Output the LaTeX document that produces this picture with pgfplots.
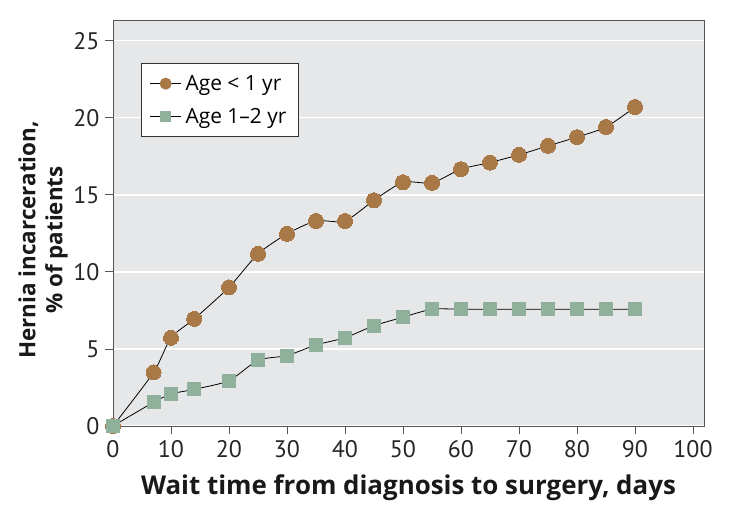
\documentclass[border=0pt]{standalone}
\usepackage{pgfplots}
\pgfplotsset{compat=1.18}
\usepackage{fontspec}
\setmainfont{Open Sans}
\newfontfamily\tickfont{PT Sans}
\definecolor{bgc}{HTML}{E6E7E8}
\definecolor{brownc}{HTML}{A87846}
\definecolor{greenc}{HTML}{8FB09A}
\definecolor{axc}{HTML}{555555}
\begin{document}
\begin{tikzpicture}
\begin{axis}[
 scale only axis, width=591bp, height=406bp,
 xmin=0, xmax=101.9, ymin=0, ymax=26.35,
 xtick={0,10,...,100}, ytick={0,5,...,25},
 axis background/.style={fill=bgc},
 ymajorgrids, grid style={white, line width=1.3pt},
 axis line style={axc, line width=0.9pt},
 tick style={axc, line width=0.9pt},
 tick align=outside, major tick length=8bp,
 xtick pos=bottom, ytick pos=left,
 ticklabel style={font=\tickfont\fontsize{24}{24}\selectfont, text=black!85},
 xticklabel style={yshift=-3bp},
 yticklabel style={xshift=-2bp},
 /pgf/number format/assume math mode=true,
 xlabel={Wait time from diagnosis to surgery, days},
 ylabel={Hernia incarceration,\\\% of patients},
 xlabel style={at={(axis description cs:0.5,0)}, anchor=center, yshift=-62bp,
   font=\fontsize{26}{28}\selectfont\bfseries},
 ylabel style={at={(axis description cs:-0.1184,0.458)}, anchor=center, align=center,
   font=\fontsize{22.5}{27}\selectfont\bfseries},
 label style={text=black!90},
 legend style={at={(0.048,0.894)}, anchor=north west, draw=black!80, line width=0.8pt, fill=white,
   font=\fontsize{21}{24}\selectfont, row sep=12bp, inner xsep=8bp, inner ysep=10bp,
   nodes={inner xsep=4bp}},
 legend cell align=left,
 clip=false,
]
\addplot[black, line width=0.8pt, smooth, tension=0.4, mark=*, mark size=7.5bp,
  mark options={fill=brownc, draw=brownc, line width=0pt},
  legend image code/.code={\draw[black,line width=0.8pt] (0bp,0bp) -- (31bp,0bp);
     \fill[brownc] (15.5bp,0bp) circle (5.6bp);}] coordinates {
(0,0) (7,3.48) (10,5.73) (14,6.95) (20,9.0) (25,11.17) (30,12.47) (35,13.31) (40,13.3)
(45,14.65) (50,15.82) (55,15.78) (60,16.67) (65,17.1) (70,17.6) (75,18.18) (80,18.75)
(85,19.4) (90,20.7)};
\addlegendentry{Age < 1 yr}
\addplot[black, line width=0.8pt, smooth, tension=0.4, mark=square*, mark size=6.5bp,
  mark options={fill=greenc, draw=greenc, line width=0pt},
  legend image code/.code={\draw[black,line width=0.8pt] (0bp,0bp) -- (31bp,0bp);
     \fill[greenc] (10.5bp,-5bp) rectangle (20.5bp,5bp);}] coordinates {
(0,0) (7,1.54) (10,2.08) (14,2.38) (20,2.94) (25,4.27) (30,4.57) (35,5.26) (40,5.73)
(45,6.51) (50,7.06) (55,7.58) (60,7.58) (65,7.58) (70,7.58) (75,7.58) (80,7.58)
(85,7.58) (90,7.58)};
\addlegendentry{Age 1--2 yr}
\end{axis}
\useasboundingbox ([xshift=-113bp,yshift=-90bp]current axis.south west) rectangle ([xshift=35bp,yshift=20bp]current axis.north east);
\end{tikzpicture}
\end{document}
